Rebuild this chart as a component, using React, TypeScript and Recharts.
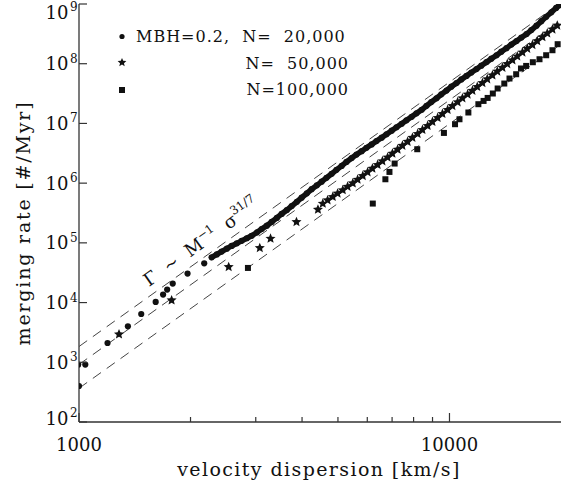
import { ComposedChart, Scatter, XAxis, YAxis, Customized } from "recharts";

// values are log10(sigma [km/s]) and log10(rate [#/Myr])
const sigma20k = [
  3.0, 2.998, 3.017, 3.077, 3.132, 3.168, 3.207, 3.227, 3.238, 3.253, 3.293, 3.338,
  3.358, 3.372, 3.385, 3.399, 3.412, 3.426, 3.439, 3.453, 3.466, 3.48, 3.493, 3.507,
  3.52, 3.534, 3.547, 3.561, 3.574, 3.588, 3.601, 3.615, 3.628, 3.642, 3.655, 3.668,
  3.682, 3.695, 3.709, 3.722, 3.736, 3.749, 3.763, 3.776, 3.79, 3.803, 3.817, 3.83,
  3.844, 3.857, 3.871, 3.884, 3.898, 3.911, 3.925, 3.938, 3.951, 3.965, 3.978, 3.992,
  4.005, 4.019, 4.032, 4.046, 4.059, 4.073, 4.086, 4.1, 4.113, 4.127, 4.14, 4.154,
  4.167, 4.181, 4.194, 4.208, 4.221, 4.235, 4.248, 4.261, 4.275, 4.288, 4.297,
];
const rate20k = [
  2.603, 2.961, 2.961, 3.323, 3.603, 3.809, 4.01, 4.134, 4.218, 4.318, 4.486, 4.658,
  4.757, 4.806, 4.854, 4.903, 4.948, 4.992, 5.034, 5.077, 5.119, 5.174, 5.231, 5.288,
  5.35, 5.417, 5.484, 5.549, 5.616, 5.687, 5.757, 5.829, 5.899, 5.963, 6.025, 6.09,
  6.157, 6.223, 6.288, 6.355, 6.42, 6.479, 6.536, 6.593, 6.648, 6.705, 6.762, 6.819,
  6.878, 6.936, 6.995, 7.052, 7.111, 7.169, 7.229, 7.295, 7.358, 7.422, 7.487, 7.551,
  7.615, 7.675, 7.737, 7.796, 7.853, 7.911, 7.968, 8.027, 8.084, 8.142, 8.201, 8.261,
  8.32, 8.379, 8.437, 8.497, 8.563, 8.637, 8.712, 8.786, 8.861, 8.935, 8.98,
];

const sigma50k = [
  3.108, 3.25, 3.404, 3.488, 3.517, 3.587, 3.645, 3.658,
  3.671, 3.685, 3.698, 3.712, 3.725, 3.739, 3.752, 3.766, 3.779, 3.792, 3.806, 3.819,
  3.833, 3.846, 3.86, 3.873, 3.887, 3.9, 3.914, 3.927, 3.941, 3.954, 3.968, 3.981,
  3.995, 4.008, 4.022, 4.035, 4.049, 4.062, 4.075, 4.089, 4.102, 4.116, 4.129, 4.143,
  4.156, 4.17, 4.183, 4.197, 4.21, 4.224, 4.237, 4.251, 4.264, 4.278, 4.291,
];
const rate50k = [
  3.469, 4.039, 4.596, 4.915, 5.072, 5.35, 5.558, 5.658,
  5.714, 5.771, 5.827, 5.884, 5.941, 5.998, 6.06, 6.122, 6.183, 6.245, 6.307, 6.369,
  6.43, 6.496, 6.563, 6.628, 6.693, 6.761, 6.826, 6.893, 6.96, 7.027, 7.094, 7.161,
  7.228, 7.293, 7.357, 7.422, 7.486, 7.549, 7.613, 7.678, 7.742, 7.806, 7.871, 7.933,
  7.997, 8.06, 8.124, 8.188, 8.251, 8.315, 8.38, 8.446, 8.509, 8.575, 8.64,
];

const sigma100k = [
  3.456, 3.793, 3.827, 3.838, 3.852, 3.913, 3.985, 4.015, 4.027, 4.051, 4.078, 4.092,
  4.103, 4.117, 4.13, 4.148, 4.162, 4.18, 4.193, 4.207, 4.225, 4.243, 4.261, 4.278, 4.292,
];
const rate100k = [
  4.58, 5.658, 6.065, 6.188, 6.328, 6.568, 6.841, 6.987, 7.07, 7.183, 7.322, 7.377,
  7.427, 7.501, 7.585, 7.668, 7.752, 7.824, 7.92, 7.963, 8.025, 8.075, 8.142, 8.226, 8.327,
];

// where the closely packed run of each series begins
const dense20k = 12;
const dense50k = 8;

// dashed Gamma ~ M^-1 sigma^(31/7) guide lines, end points
const fitSigma = [3.0, 4.301];
const fitTop = [3.264, 9.025];
const fitMid = [2.963, 8.724];
const fitLow = [2.565, 8.326];

const legendLabels = ["MBH=0.2,  N=  20,000", "N=  50,000", "N=100,000"];
const xTickValues = [1000, 2000, 3000, 4000, 5000, 6000, 7000, 8000, 9000, 10000];
const yTickExponents = [2, 3, 4, 5, 6, 7, 8, 9];

const X_MIN = 3;
const X_MAX = Math.log10(20000);
const INK = "#111";
const AXIS = "#333";
const FONT = "'DejaVu Serif', serif";
const PRE = { whiteSpace: "pre" as const };

const toPoints = (xs: number[], ys: number[]) => xs.map((x, i) => ({ x, y: ys[i] }));

function starPath(cx: number, cy: number, R: number) {
  const r = R * 0.45;
  let d = "";
  for (let i = 0; i < 10; i++) {
    const rad = i % 2 === 0 ? R : r;
    const a = -Math.PI / 2 + (i * Math.PI) / 5;
    d += (i === 0 ? "M" : "L") + (cx + rad * Math.cos(a)).toFixed(2) + "," + (cy + rad * Math.sin(a)).toFixed(2);
  }
  return d + "Z";
}

const DotMark = (p: any) => <circle cx={p.cx} cy={p.cy} r={3.1} fill={INK} />;
const StarMark = (p: any) => <path d={starPath(p.cx, p.cy, 5.3)} fill={INK} />;
const SquareMark = (p: any) => <rect x={p.cx - 3} y={p.cy - 3} width={6} height={6} fill={INK} />;
const NoMark = () => <g />;

const isMajor = (v: number) => Math.abs(v - Math.round(v)) < 1e-6;

function BottomTick({ x, y, payload }: any) {
  const v = payload.value;
  const major = isMajor(v);
  return (
    <g>
      <line x1={x} x2={x} y1={y} y2={y - (major ? 9 : 5)} stroke={AXIS} strokeWidth={1.2} />
      {major && (
        <text x={x} y={y + 29} textAnchor="middle" fontFamily={FONT} fontSize={18} fill={INK}>
          {Math.round(10 ** v)}
        </text>
      )}
    </g>
  );
}

function TopTick({ x, y, payload }: any) {
  const major = isMajor(payload.value);
  return <line x1={x} x2={x} y1={y} y2={y + (major ? 9 : 5)} stroke={AXIS} strokeWidth={1.2} />;
}

function LeftTick({ x, y, payload }: any) {
  const v = payload.value;
  const shift = v === 9 ? 8 : v === 2 ? -4 : 0;
  return (
    <g fontFamily={FONT} fill={INK}>
      <line x1={x} x2={x + 8} y1={y} y2={y} stroke={AXIS} strokeWidth={1.2} />
      <text x={x - 10.5} y={y + 6.5 + shift} textAnchor="end" fontSize={18}>10</text>
      <text x={x - 9} y={y - 1 + shift} fontSize={12}>{v}</text>
    </g>
  );
}

function RightTick({ x, y }: any) {
  return <line x1={x} x2={x - 8} y1={y} y2={y} stroke={AXIS} strokeWidth={1.2} />;
}

function Annotations() {
  return (
    <g fontFamily={FONT} fill={INK}>
      <g fontSize={16} letterSpacing={1}>
        <circle cx={122} cy={36.5} r={2.6} fill={INK} />
        <text x={136} y={42} style={PRE} xmlSpace="preserve">{legendLabels[0]}</text>
        <path d={starPath(122, 62.5, 4.6)} fill={INK} />
        <text x={349} y={68.5} textAnchor="end" style={PRE} xmlSpace="preserve">{legendLabels[1]}</text>
        <rect x={119} y={87} width={6} height={6} fill={INK} />
        <text x={349} y={95} textAnchor="end" style={PRE} xmlSpace="preserve">{legendLabels[2]}</text>
      </g>
      <text
        x={149}
        y={287}
        transform="rotate(-35.5 149 287)"
        fontSize={18}
        style={PRE}
        xmlSpace="preserve"
      >
        {"Γ  ~  M"}
        <tspan dy={-8} fontSize={12}>−1</tspan>
        <tspan dy={8}>{"  σ"}</tspan>
        <tspan dy={-9} fontSize={12}>31/7</tspan>
      </text>
      <text x={319} y={476} textAnchor="middle" fontSize={19} letterSpacing={1.4}>
        velocity dispersion [km/s]
      </text>
      <text
        x={-223}
        y={30}
        transform="rotate(-90)"
        textAnchor="middle"
        fontSize={19}
        letterSpacing={1.8}
      >
        merging rate [#/Myr]
      </text>
    </g>
  );
}

export default function App() {
  const xTicks = xTickValues.map((v) => Math.log10(v));
  const dash = { stroke: "#444", strokeWidth: 1, strokeDasharray: "10 7" };
  const pts20k = toPoints(sigma20k, rate20k);
  const pts50k = toPoints(sigma50k, rate50k);
  return (
    <div style={{ position: "absolute", left: 0, top: 0, background: "#fff" }}>
      <ComposedChart width={561} height={487} margin={{ top: 4, right: 0, bottom: 0, left: 0 }}>
        <XAxis
          type="number"
          dataKey="x"
          domain={[X_MIN, X_MAX]}
          allowDataOverflow
          ticks={xTicks}
          interval={0}
          tickSize={0}
          tickMargin={0}
          tick={<BottomTick />}
          axisLine={{ stroke: AXIS, strokeWidth: 1.3 }}
          tickLine={false}
          height={65}
        />
        <XAxis
          xAxisId="top"
          orientation="top"
          type="number"
          dataKey="x"
          domain={[X_MIN, X_MAX]}
          allowDataOverflow
          ticks={xTicks}
          interval={0}
          tickSize={0}
          tickMargin={0}
          tick={<TopTick />}
          axisLine={{ stroke: AXIS, strokeWidth: 1.3 }}
          tickLine={false}
          height={0}
        />
        <YAxis
          type="number"
          dataKey="y"
          domain={[2, 9]}
          allowDataOverflow
          ticks={yTickExponents}
          interval={0}
          tickSize={0}
          tickMargin={0}
          tick={<LeftTick />}
          axisLine={{ stroke: AXIS, strokeWidth: 1.3 }}
          tickLine={false}
          width={79}
        />
        <YAxis
          yAxisId="right"
          orientation="right"
          type="number"
          dataKey="y"
          domain={[2, 9]}
          allowDataOverflow
          ticks={yTickExponents}
          interval={0}
          tickSize={0}
          tickMargin={0}
          tick={<RightTick />}
          axisLine={{ stroke: AXIS, strokeWidth: 1.3 }}
          tickLine={false}
          width={0}
        />
        <Scatter data={toPoints(fitSigma, fitTop)} line={dash} shape={NoMark} isAnimationActive={false} />
        <Scatter data={toPoints(fitSigma, fitMid)} line={dash} shape={NoMark} isAnimationActive={false} />
        <Scatter data={toPoints(fitSigma, fitLow)} line={dash} shape={NoMark} isAnimationActive={false} />
        <Scatter data={toPoints(sigma100k, rate100k)} shape={SquareMark} isAnimationActive={false} />
        <Scatter data={pts50k.slice(0, dense50k)} shape={StarMark} isAnimationActive={false} />
        <Scatter
          data={pts50k.slice(dense50k)}
          shape={StarMark}
          line={{ stroke: INK, strokeWidth: 2.5 }}
          isAnimationActive={false}
        />
        <Scatter data={pts20k.slice(0, dense20k)} shape={DotMark} isAnimationActive={false} />
        <Scatter
          data={pts20k.slice(dense20k)}
          shape={DotMark}
          line={{ stroke: INK, strokeWidth: 5.5, strokeLinecap: "round" }}
          isAnimationActive={false}
        />
        <Customized component={Annotations} />
      </ComposedChart>
    </div>
  );
}
